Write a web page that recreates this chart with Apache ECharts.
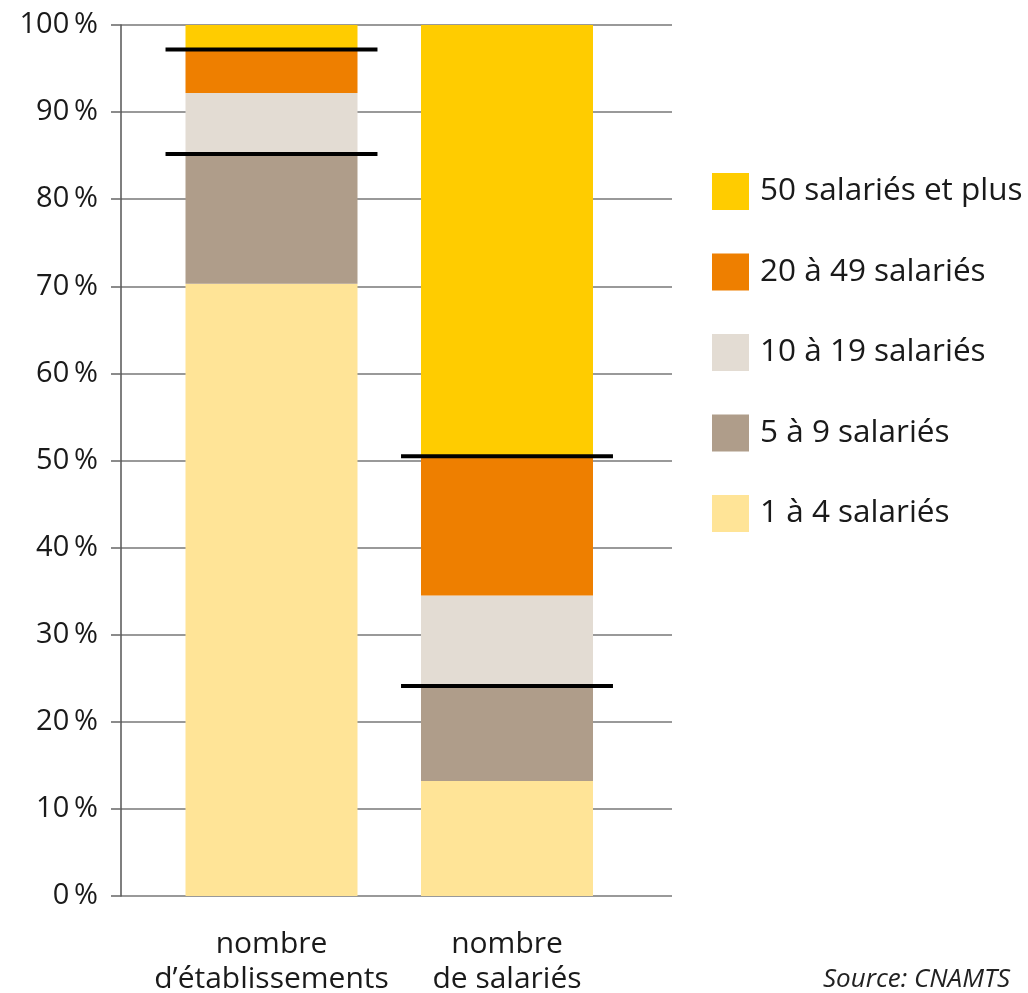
<!DOCTYPE html>
<html>
<head>
<meta charset="utf-8">
<script src="https://cdn.jsdelivr.net/npm/echarts@6/dist/echarts.min.js"></script>
<style>
html,body{margin:0;padding:0;background:#fff;}
#chart{width:1028px;height:993px;}
</style>
</head>
<body>
<div id="chart"></div>
<script>
// ---- Data ----
var categories = ["nombre\nd\u2019établissements", "nombre\nde salariés"];
var seriesNames = ["1 à 4 salariés", "5 à 9 salariés", "10 à 19 salariés", "20 à 49 salariés", "50 salariés et plus"];
var v1a4 = [70.3, 13.2];
var v5a9 = [14.9, 10.9];
var v10a19 = [7.0, 10.4];
var v20a49 = [5.0, 16.0];
var v50plus = [2.8, 49.5];
var yTicks = [0, 10, 20, 30, 40, 50, 60, 70, 80, 90, 100];
var sourceText = "Source: CNAMTS";

var colors = ["#FFE497", "#AF9D8A", "#E3DCD3", "#EE7F00", "#FFCC00"];
var values = [v1a4, v5a9, v10a19, v20a49, v50plus];

// cumulative markers: below 10 employees (first two classes) and below 50 (first four)
var markerData = [];
for (var i = 0; i < categories.length; i++) {
  var c2 = v1a4[i] + v5a9[i];
  var c4 = c2 + v10a19[i] + v20a49[i];
  markerData.push([i, c2]);
  markerData.push([i, c4]);
}

var FONT = "'Open Sans', 'Noto Sans', sans-serif";

var series = values.map(function (arr, k) {
  return {
    name: seriesNames[k],
    type: 'bar',
    stack: 'total',
    xAxisIndex: 1,
    yAxisIndex: 1,
    barWidth: 172,
    itemStyle: { color: colors[k] },
    emphasis: { disabled: true },
    data: arr
  };
});

series.push({
  type: 'custom',
  xAxisIndex: 1,
  yAxisIndex: 1,
  z: 10,
  data: markerData,
  renderItem: function (params, api) {
    var p = api.coord([api.value(0), api.value(1)]);
    var band = api.size([1, 0])[0];
    var half = band * 0.45;
    return {
      type: 'line',
      shape: { x1: p[0] - half, y1: p[1], x2: p[0] + half, y2: p[1] },
      style: { stroke: '#000', lineWidth: 4 }
    };
  }
});

var option = {
  backgroundColor: '#fff',
  animation: false,
  grid: [
    { left: 121, right: 356, top: 25, bottom: 97, containLabel: false, outerBoundsMode: 'none' },
    { left: 153.75, right: 403.25, top: 25, bottom: 97, containLabel: false, outerBoundsMode: 'none' }
  ],
  xAxis: [
    { gridIndex: 0, type: 'category', data: [''], show: false },
    {
      gridIndex: 1, type: 'category', data: categories,
      axisLine: { show: false }, axisTick: { show: false },
      axisLabel: { color: '#1a1a1a', fontSize: 30, fontFamily: FONT, lineHeight: 35, margin: 31, interval: 0 }
    }
  ],
  yAxis: [
    {
      gridIndex: 0, type: 'value', min: yTicks[0], max: yTicks[yTicks.length - 1], interval: 10,
      axisLine: { show: true, lineStyle: { color: '#555', width: 1.5 } },
      axisTick: { show: true, length: 10, lineStyle: { color: '#666', width: 1.5 } },
      splitLine: { show: true, lineStyle: { color: '#777', width: 1.5 } },
      axisLabel: { color: '#1a1a1a', fontSize: 29, fontFamily: FONT, margin: 23,
        formatter: function (v) { return v + '\u2009%'; } }
    },
    { gridIndex: 1, type: 'value', min: 0, max: 100, show: false }
  ],
  legend: {
    orient: 'vertical',
    left: 707,
    top: 168,
    itemWidth: 37,
    itemHeight: 37,
    itemGap: 43.5,
    icon: 'rect',
    selectedMode: false,
    data: seriesNames.slice().reverse(),
    textStyle: { color: '#1a1a1a', fontSize: 31.5, fontFamily: FONT, padding: [0, 0, 0, 6] }
  },
  graphic: [
    {
      type: 'text', right: 18, top: 967,
      style: { text: sourceText, fill: '#222', font: 'italic 26px ' + FONT }
    }
  ],
  series: series
};

var chart = echarts.init(document.getElementById('chart'), null, { renderer: 'canvas' });
chart.setOption(option);
</script>
</body>
</html>
